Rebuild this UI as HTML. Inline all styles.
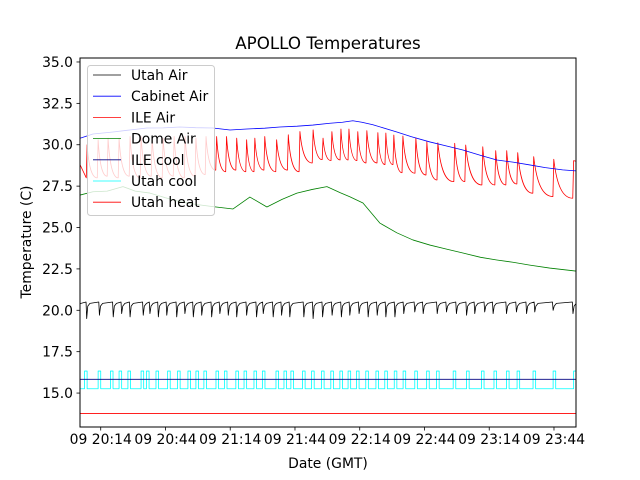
<!DOCTYPE html>
<html><head><meta charset="utf-8"><style>
html,body{margin:0;padding:0;background:#fff}
svg{display:block;font-family:"DejaVu Sans","Liberation Sans",sans-serif}
</style></head><body>
<svg id="chart" width="640" height="480" viewBox="0 0 640 480">
<rect x="0" y="0" width="640" height="480" fill="#fff"/>
<text x="328" y="49" text-anchor="middle" font-size="16.7">APOLLO Temperatures</text>
<g id="plot"></g>
<g id="axes"></g>
<text x="328" y="468" text-anchor="middle" font-size="13.9">Date (GMT)</text>
<text transform="translate(31,242) rotate(-90)" text-anchor="middle" font-size="13.9">Temperature (C)</text>
<g id="legend"></g>
</svg>
<script>
// time in minutes after 20:00 GMT
const yTicks = [15.0,17.5,20.0,22.5,25.0,27.5,30.0,32.5,35.0];
const xTickTimes = [14,44,74,104,134,164,194,224];
const xTickLabels = ["09 20:14","09 20:44","09 21:14","09 21:44","09 22:14","09 22:44","09 23:14","09 23:44"];
const seriesNames = ["Utah Air","Cabinet Air","ILE Air","Dome Air","ILE cool","Utah cool","Utah heat"];
const seriesColors = ["#000000","#0000ff","#ff0000","#008000","#000080","#00ffff","#ff0000"];

const cabinetT = [4.4,10.4,19.7,28,35.4,43,50.7,58,66.0,73.9,81.7,90,97.0,105,112.3,120.2,126,130.8,135,140.1,151.2,158,166.5,174,181.8,190,197.5,205,212.8,220,228.0,234.1];
const cabinetV = [30.39,30.65,30.77,30.9,31.01,31.02,31.07,31.03,31.01,30.89,30.95,31.0,31.07,31.12,31.19,31.30,31.36,31.45,31.36,31.21,30.77,30.48,30.17,29.93,29.68,29.36,29.08,28.95,28.78,28.62,28.48,28.42];

const domeT = [4.4,10.4,17,24.3,30,36.8,44,50.7,58,66.0,75.3,83.1,91.0,98,104.9,112,118.8,120.2,125,129.4,135.5,143.3,151.2,158.6,166.5,174,181.8,190,197.5,205,212.8,222,234.1];
const domeV = [26.96,27.16,27.2,27.47,27.2,27.08,26.8,26.56,26.4,26.26,26.12,26.84,26.24,26.7,27.08,27.3,27.47,27.39,27.1,26.86,26.48,25.27,24.68,24.25,23.94,23.7,23.46,23.2,23.04,22.9,22.73,22.55,22.37];

const ilePeakT = [7.7,12.8,17.4,22.5,27.6,32.7,37.8,42.9,48.0,53.1,58.1,62.8,67.7,72.3,77.0,81.6,85.4,90.0,95.5,100.9,106.3,112.4,117.0,121.1,125.3,129.0,133.1,137.3,142.4,146.1,149.8,154.0,160.0,165.1,170.2,178.0,183.1,191.0,197.0,202.1,207.2,214.6,223.9,233.1];
const ilePeakV = [30.0,30.3,30.4,30.4,30.5,30.5,30.4,30.4,30.5,30.5,30.4,30.5,30.5,30.5,30.4,30.3,30.4,30.5,30.3,30.6,30.8,30.9,30.4,30.79,30.95,30.95,30.79,30.85,30.73,30.71,30.59,30.53,30.41,30.18,30.12,30.09,29.98,29.88,29.64,29.64,29.52,29.28,29.12,29.04];
const ileTroughV = [28.0,28.0,28.1,28.0,28.1,28.0,28.1,28.0,28.1,28.0,28.1,28.2,28.47,28.37,28.47,28.37,28.37,28.47,28.37,28.47,28.37,28.9,29.1,29.04,29.08,29.08,29.04,28.9,28.9,28.8,28.8,28.31,28.28,28.17,27.87,27.77,27.77,27.57,27.57,27.57,27.63,27.07,26.87,26.77];
const ileStartV = 28.8;
const ileEndV = 29.0;

const utahDipT = [7.5,13.4,19.8,23.7,27.6,33.7,36.8,40.7,44.6,49.2,53.0,56.9,60.8,65.4,69.2,73.1,77.0,81.6,86.2,89.3,93.9,97.8,101.6,108.1,112.4,116.8,121.2,125.5,129.4,133.7,137.9,142.1,146.1,150.3,154.4,159.5,163.4,169.9,174.2,178.8,183.5,187.3,191.9,195.8,202.0,206.6,211.3,215.1,223.6,232.8];
const utahDipV = [19.5,19.7,19.6,19.8,19.6,19.7,19.8,19.6,19.7,19.6,19.8,19.6,19.7,19.6,19.8,19.7,19.6,19.7,19.6,19.8,19.6,19.7,19.6,19.6,19.5,19.6,19.7,19.6,19.7,19.8,19.6,19.7,19.6,19.6,19.8,19.9,19.8,19.8,19.9,19.8,19.7,19.8,19.9,19.8,19.8,19.9,19.8,19.9,20.0,19.8];
const utahBaseV = 20.5;

const coolPulseT = [6.5,12.8,18.5,22.5,26.6,32.7,35.2,39.6,45.0,49.6,54.4,58.1,61.8,67.4,71.3,76.6,80.4,85.0,88.9,95.2,98.9,102.1,107.5,111.7,116.3,120.6,124.8,128.6,132.5,136.8,141.5,145.6,150.0,154.1,159.5,165.0,169.6,177.3,183.5,190.4,196.2,202.0,206.9,214.3,223.6,233.1];
const coolLowV = 15.26;
const coolHighV = 16.33;
const ileCoolV = 15.83;
const utahHeatV = 13.77;

const tMin = 4.4, tMax = 234.2, vMin = 12.95, vMax = 35.24;
const L = 80, R = 576, T = 58, B = 427;
function X(t){ return L + (t - tMin) / (tMax - tMin) * (R - L); }
function Y(v){ return B - (v - vMin) / (vMax - vMin) * (B - T); }

const NS = "http://www.w3.org/2000/svg";
const plot = document.getElementById("plot");
const axes = document.getElementById("axes");
const legend = document.getElementById("legend");
function mk(tag, attrs, parent){
  const e = document.createElementNS(NS, tag);
  for (const k in attrs) e.setAttribute(k, attrs[k]);
  parent.appendChild(e);
  return e;
}
const clip = mk("clipPath", {id:"clp"}, plot);
mk("rect", {x:L, y:T, width:R-L, height:B-T}, clip);
plot.setAttribute("clip-path", "url(#clp)");
function poly(ts, vs){ return ts.map((t,i)=>(i?"L":"M")+X(t).toFixed(2)+","+Y(vs[i]).toFixed(2)).join(""); }
function addPath(d, color, name){
  const p = mk("path", {d:d, fill:"none", stroke:color, "stroke-width":0.8, "stroke-linejoin":"round"}, plot);
  
  
  return p;
}

// Utah heat
addPath("M"+X(tMin)+","+Y(utahHeatV)+"L"+X(tMax)+","+Y(utahHeatV), seriesColors[6], "utah-heat-line");

// Utah cool pulses
(function(){
  let d = "M"+X(tMin)+","+Y(coolLowV);
  coolPulseT.forEach(t=>{
    d += "L"+X(t).toFixed(2)+","+Y(coolLowV)+"L"+X(t).toFixed(2)+","+Y(coolHighV)+"L"+X(t+1.2).toFixed(2)+","+Y(coolHighV)+"L"+X(t+1.2).toFixed(2)+","+Y(coolLowV);
  });
  d += "L"+X(tMax)+","+Y(coolLowV);
  addPath(d, seriesColors[5], "utah-cool-line");
})();

// ILE cool
addPath("M"+X(tMin)+","+Y(ileCoolV)+"L"+X(tMax)+","+Y(ileCoolV), seriesColors[4], "ile-cool-line");

// Utah Air
(function(){
  let d = "M"+X(tMin).toFixed(2)+","+Y(utahBaseV-0.1).toFixed(2);
  utahDipT.forEach((t,i)=>{
    d += "L"+X(t-0.3).toFixed(2)+","+Y(utahBaseV).toFixed(2);
    d += "L"+X(t).toFixed(2)+","+Y(utahDipV[i]).toFixed(2);
    d += "L"+X(t+0.5).toFixed(2)+","+Y(utahBaseV-0.25).toFixed(2);
    d += "L"+X(t+1.5).toFixed(2)+","+Y(utahBaseV-0.08).toFixed(2);
  });
  d += "L"+X(tMax).toFixed(2)+","+Y(utahBaseV).toFixed(2);
  addPath(d, seriesColors[0], "utah-air-line");
})();

// Dome Air
addPath(poly(domeT, domeV), seriesColors[3], "dome-air-line");

// ILE Air
(function(){
  let d = "M"+X(tMin).toFixed(2)+","+Y(ileStartV).toFixed(2);
  for (let i=0;i<ilePeakT.length;i++){
    const tp = ilePeakT[i], vp = ilePeakV[i];
    d += "L"+X(tp-0.4).toFixed(2)+","+Y(ileTroughV[i]).toFixed(2);
    d += "L"+X(tp).toFixed(2)+","+Y(vp).toFixed(2);
    if (i+1 < ilePeakT.length){
      const tn = ilePeakT[i+1]-0.4, vn = ileTroughV[i+1];
      const dt = tn - tp;
      d += "C"+X(tp+0.15*dt).toFixed(2)+","+Y(vn+0.35*(vp-vn)).toFixed(2)+" "+X(tp+0.45*dt).toFixed(2)+","+Y(vn).toFixed(2)+" "+X(tn).toFixed(2)+","+Y(vn).toFixed(2);
    } else {
      d += "L"+X(tMax).toFixed(2)+","+Y(ileEndV).toFixed(2);
    }
  }
  addPath(d, seriesColors[2], "ile-air-line");
})();

// Cabinet Air
addPath(poly(cabinetT, cabinetV), seriesColors[1], "cabinet-air-line");

// axes frame
const frame = mk("rect", {x:L, y:T, width:R-L, height:B-T, fill:"none", stroke:"#000", "stroke-width":1}, axes);


yTicks.forEach(v=>{
  const y = Y(v);
  const tk = mk("line", {x1:L-3.5, x2:L, y1:y, y2:y, stroke:"#000", "stroke-width":0.8}, axes);
  
  
  const tx = mk("text", {x:L-7, y:y+5, "text-anchor":"end", "font-size":13.9}, axes);
  tx.textContent = v.toFixed(1);
  
  
});
xTickTimes.forEach((t,i)=>{
  const x = X(t);
  const tk = mk("line", {x1:x, x2:x, y1:B, y2:B+3.5, stroke:"#000", "stroke-width":0.8}, axes);
  
  
  const tx = mk("text", {x:x, y:B+17, "text-anchor":"middle", "font-size":13.9}, axes);
  tx.textContent = xTickLabels[i];
  
  
});

// legend
const box = mk("rect", {x:87.5, y:65.5, width:127, height:150, rx:3, fill:"#fff", "fill-opacity":0.8, stroke:"#ccc", "stroke-width":1}, legend);


seriesNames.forEach((n,i)=>{
  const y = 75 + i*21.2;
  const ln = mk("line", {x1:93, x2:121, y1:y, y2:y, stroke:seriesColors[i], "stroke-width":0.8}, legend);
  
  
  const tx = mk("text", {x:131, y:y+5, "font-size":13.9}, legend);
  tx.textContent = n;
  
  
});
</script>
</body></html>
